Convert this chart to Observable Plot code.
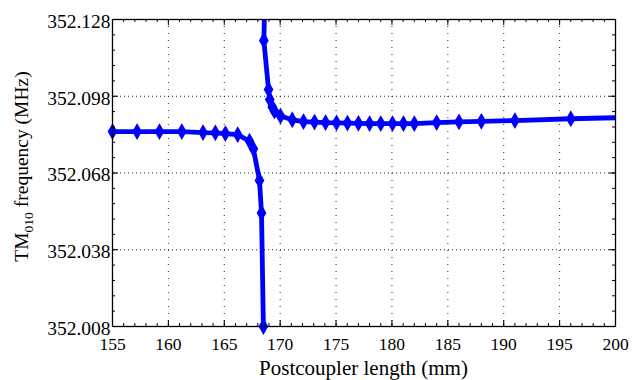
<!DOCTYPE html>
<html>
<head>
<meta charset="utf-8">
<script src="https://cdn.jsdelivr.net/npm/d3@7"></script>
<script src="https://cdn.jsdelivr.net/npm/@observablehq/plot@0.6"></script>
<style>
  html, body { margin: 0; padding: 0; background: #fff; }
  #chart svg { display: block; }
</style>
</head>
<body>
<div id="chart"></div>
<script>
// ---- data ----
const xTicks = [155, 160, 165, 170, 175, 180, 185, 190, 195, 200];
const yTicks = [352.008, 352.038, 352.068, 352.098, 352.128];
const xLabel = "Postcoupler length (mm)";
const yLabelMain = "TM";
const yLabelSub = "010";
const yLabelRest = " frequency (MHz)";

// lower branch
const leftX = [155, 157.2, 159.2, 161.2, 163.1, 164.2, 165.1, 166.2, 167.26, 167.6, 168.15, 168.33, 168.5];
const leftY = [352.0842, 352.0842, 352.0842, 352.0842, 352.0838, 352.0837, 352.0834, 352.0830, 352.0804, 352.0775, 352.0651, 352.0524, 352.008];

// upper branch (first and last points lie just outside the axes and are clipped)
const rightX = [168.62, 168.54, 168.96, 169.07, 169.29, 169.49, 170.03, 171.08, 172.09, 173.07, 174.06, 175.04, 176.02, 177.0, 178.0, 179.0, 180.05, 181.03, 182.0, 184.0, 186.0, 188.0, 191.0, 196.0, 201.0];
const rightY = [352.135, 352.1198, 352.1006, 352.0967, 352.0938, 352.0922, 352.0903, 352.0888, 352.0881, 352.0879, 352.0877, 352.0876, 352.0875, 352.0874, 352.0873, 352.0873, 352.0873, 352.0873, 352.0873, 352.0877, 352.0880, 352.0882, 352.0885, 352.0892, 352.0897];

// ---- layout ----
const W = 632, H = 380;
const mL = 112, mR = 17, mT = 19, mB = 54;
const plotW = W - mL - mR, plotH = H - mT - mB;
const xDomain = [xTicks[0], xTicks[xTicks.length - 1]];
const yDomain = [yTicks[0], yTicks[yTicks.length - 1]];
const FONT = "'Liberation Serif', 'Times New Roman', serif";
const BLUE = "#0000ff";

const left = leftX.map((x, i) => ({x, y: leftY[i], branch: "lower"}));
const right = rightX.map((x, i) => ({x, y: rightY[i], branch: "upper"}));
const inside = d => d.x >= xDomain[0] && d.x <= xDomain[1] && d.y >= yDomain[0] && d.y <= yDomain[1];
const markers = left.concat(right).filter(inside);

const xMinor = d3.range(xDomain[0], xDomain[1] + 0.5, 1);
const yMinor = d3.range(0, 21).map(i => +(yDomain[0] + i * 0.006).toFixed(3));
const xGrid = xTicks.slice(1, -1);
const yGrid = yTicks.slice(1, -1);

const tickColor = "#000";

const plot = Plot.plot({
  width: W,
  height: H,
  marginLeft: mL,
  marginRight: mR,
  marginTop: mT,
  marginBottom: mB,
  style: {fontFamily: FONT, background: "#fff", color: "#000"},
  x: {domain: xDomain, axis: null},
  y: {domain: yDomain, axis: null},
  marks: [
    // dotted grid
    Plot.ruleX(xGrid, {stroke: "#000", strokeWidth: 1, strokeDasharray: "1,6", strokeOpacity: 0.85}),
    Plot.ruleY(yGrid, {stroke: "#000", strokeWidth: 1, strokeDasharray: "1,3", strokeOpacity: 0.85}),
    // curves
    Plot.line(left, {x: "x", y: "y", stroke: BLUE, strokeWidth: 4.8, strokeLinejoin: "round", clip: true}),
    Plot.line(right, {x: "x", y: "y", stroke: BLUE, strokeWidth: 4.8, strokeLinejoin: "round", clip: true}),
    Plot.dot(markers, {x: "x", y: "y", symbol: "diamond", r: 4.2, fill: BLUE, stroke: BLUE, strokeWidth: 1.5}),
    // box
    Plot.frame({stroke: "#000", strokeWidth: 1.3}),
    // inward minor ticks
    Plot.ruleX(xMinor, {stroke: tickColor, insetTop: plotH - 3}),
    Plot.ruleX(xMinor, {stroke: tickColor, insetBottom: plotH - 3}),
    Plot.ruleY(yMinor, {stroke: tickColor, insetRight: plotW - 3}),
    Plot.ruleY(yMinor, {stroke: tickColor, insetLeft: plotW - 3}),
    // inward major ticks
    Plot.ruleX(xTicks, {stroke: tickColor, insetTop: plotH - 6}),
    Plot.ruleX(xTicks, {stroke: tickColor, insetBottom: plotH - 6}),
    Plot.ruleY(yTicks, {stroke: tickColor, insetRight: plotW - 6}),
    Plot.ruleY(yTicks, {stroke: tickColor, insetLeft: plotW - 6}),
    // tick labels
    Plot.text(xTicks, {x: d => d, text: d => String(d), frameAnchor: "bottom", lineAnchor: "top", dy: 11, fontSize: 17.5, fontFamily: FONT, fill: "#000"}),
    Plot.text(yTicks, {y: d => d, text: d => d.toFixed(3), frameAnchor: "left", textAnchor: "end", dx: -2, dy: 2, fontSize: 19.5, fontFamily: FONT, fill: "#000"})
  ]
});

const svg = d3.select(plot);

// x-axis title
svg.append("text")
  .attr("x", mL + plotW / 2)
  .attr("y", 375)
  .attr("text-anchor", "middle")
  .attr("font-family", FONT)
  .attr("font-size", 21)
  .attr("fill", "#000")
  .text(xLabel);

// y-axis title with subscript
const yl = svg.append("text")
  .attr("transform", `translate(28, ${mT + plotH / 2 - 6}) rotate(-90)`)
  .attr("text-anchor", "middle")
  .attr("font-family", FONT)
  .attr("font-size", 19.5)
  .attr("fill", "#000");
yl.append("tspan").text(yLabelMain);
yl.append("tspan").attr("font-size", 13.5).attr("dy", 5).text(yLabelSub);
yl.append("tspan").attr("dy", -5).text(yLabelRest);

document.getElementById("chart").appendChild(plot);
</script>
</body>
</html>
